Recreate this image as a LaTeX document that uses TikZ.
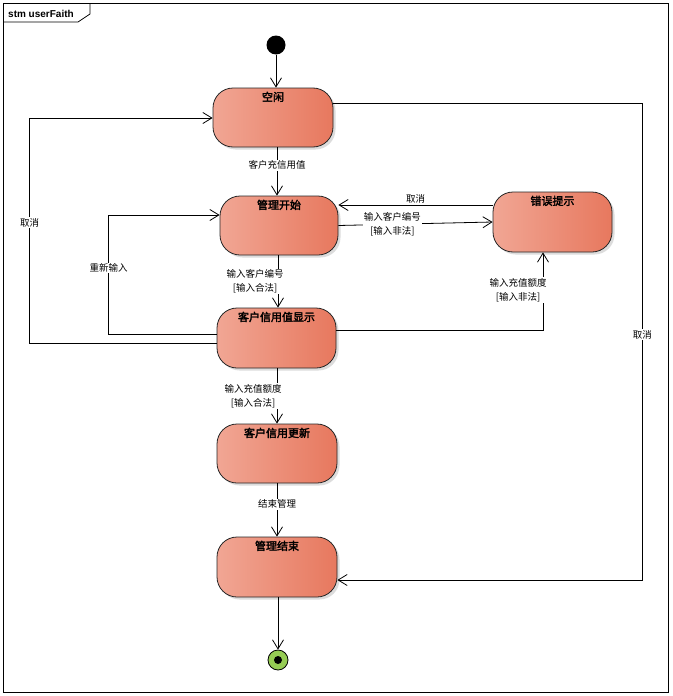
\documentclass[tikz,border=0pt]{standalone}
\usepackage{fontspec}
\setmainfont{Liberation Sans}
\newfontfamily\cjk{Noto Sans CJK SC}[AutoFakeBold=2.5]
\usetikzlibrary{arrows.meta,shadows,calc}
\definecolor{stateL}{RGB}{241,166,148}
\definecolor{stateR}{RGB}{231,120,94}
\definecolor{finalgreen}{RGB}{150,204,84}

\begin{document}
\begin{tikzpicture}[x=1pt,y=-1pt,
  state/.style={rectangle, rounded corners=20pt, draw=black!85, line width=0.8pt,
    left color=stateL, right color=stateR,
    drop shadow={shadow xshift=2.5pt,shadow yshift=-2.5pt,fill=black!30,opacity=0.45}},
  title/.style={font=\cjk\bfseries\fontsize{11}{13}\selectfont, anchor=north, inner sep=0pt, yshift=-4pt},
  edge/.style={draw=black, line width=0.8pt,
    -{Straight Barb[length=9pt,width=11pt,line width=0.8pt]}},
  lbl/.style={font=\cjk\fontsize{9.5}{14}\selectfont, fill=white, inner sep=1pt, align=center},
]
\useasboundingbox (0,0) rectangle (672,696);

% diagram frame with its name tab
\draw[line width=0.8pt] (3,3) rectangle (668,692);
\draw[line width=0.8pt] (3,22) -- (78,22) -- (90,14) -- (90,3);
\node[anchor=west, inner sep=0pt, font=\bfseries\fontsize{10}{12}\selectfont] (frametitle) at (8,13.5) {stm userFaith};

% states
\node[state, minimum width=120pt, minimum height=59pt, label={[title]north:空闲}] (idle) at (273,117.5) {};
\node[state, minimum width=118pt, minimum height=59pt, label={[title]north:管理开始}] (start) at (279,225.5) {};
\node[state, minimum width=119pt, minimum height=60pt, label={[title]north:错误提示}] (err) at (552.5,222) {};
\node[state, minimum width=119pt, minimum height=60pt, label={[title]north:客户信用值显示}] (disp) at (276.5,338) {};
\node[state, minimum width=120pt, minimum height=59pt, label={[title]north:客户信用更新}] (upd) at (277,453.5) {};
\node[state, minimum width=120pt, minimum height=60pt, label={[title]north:管理结束}] (fin) at (277,567) {};

% pseudo states
\node[circle, fill=black, minimum size=19pt, inner sep=0pt] (init) at (276,45) {};
\node[circle, draw=black, line width=0.8pt, fill=finalgreen, minimum size=20pt, inner sep=0pt] (final) at (278,660) {};
\node[circle, fill=black, minimum size=8pt, inner sep=0pt] (finaldot) at (final) {};

% transitions
\draw[edge] (init) -- (init |- idle.north);
\draw[edge] ($(idle.south)+(4,0)$) -- node[lbl,pos=0.37] {客户充信用值} ($(start.north)+(-2,0)$);
\draw[edge] ($(start.south)+(-1,0)$) -- node[lbl,xshift=-23pt] {输入客户编号\\{}[输入合法]} ($(disp.north)+(1.5,0)$);
\draw[edge] (start.east) -- node[lbl,pos=0.35] {输入客户编号\\{}[输入非法]} (err.west);
\draw[edge] ($(err.west)+(0,-17)$) -- node[lbl,anchor=south,fill=none] {取消} ($(start.east)+(0,-20.5)$);
\draw[edge] ($(disp.east)+(0,-8)$) -| node[lbl,pos=0.756,xshift=-25pt] {输入充值额度\\{}[输入非法]} ($(err.south)+(-9.5,0)$);
\draw[edge] ($(disp.west)+(0,-4)$) -- ++(-108,0) |- node[lbl,pos=0.277] {重新输入} ($(start.west)+(0,-10.5)$);
\draw[edge] ($(disp.west)+(0,5)$) -- ++(-187,0) |- node[lbl,pos=0.267] {取消} ($(idle.west)+(0,0.5)$);
\draw[edge] ($(idle.east)+(0,-14.5)$) -- ++(309,0) |- node[lbl,pos=0.243] {取消} ($(fin.east)+(0,13)$);
\draw[edge] ($(disp.south)+(0.5,0)$) -- node[lbl,xshift=-24pt] {输入充值额度\\{}[输入合法]} ($(upd.north)+(0,0)$);
\draw[edge] (upd.south) -- node[lbl,pos=0.39] {结束管理} (fin.south |- fin.north);
\draw[edge] (fin.south -| final) -- (final);
\end{tikzpicture}
\end{document}
